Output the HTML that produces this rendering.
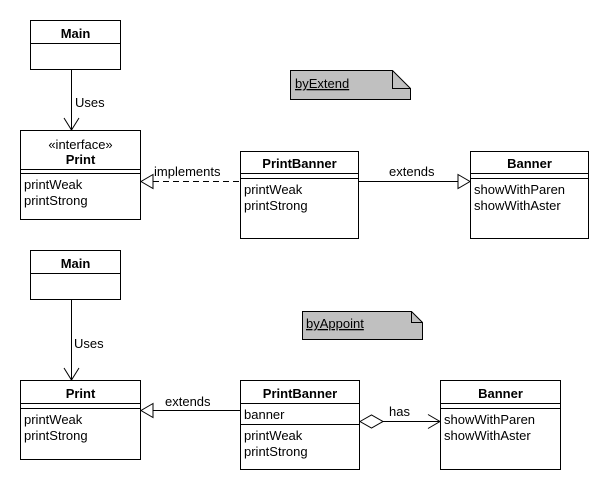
<!DOCTYPE html>
<html><head><meta charset="utf-8"><style>
html,body{margin:0;padding:0;background:#fff;}
svg{display:block;}
text{font-family:"Liberation Sans",Arial,sans-serif;font-size:13px;fill:#000;}
.b{font-weight:bold;}
</style></head><body>
<svg width="610" height="490" viewBox="0 0 610 490" xmlns="http://www.w3.org/2000/svg">
<g fill="#fff" stroke="#000" stroke-width="1">
<rect x="30.5" y="20.5" width="90" height="49"/>
<line x1="30" y1="43.5" x2="121" y2="43.5"/>
<rect x="20.5" y="130.5" width="120" height="89"/>
<line x1="20" y1="169.5" x2="141" y2="169.5"/>
<line x1="20" y1="173.5" x2="141" y2="173.5"/>
<rect x="240.5" y="151.5" width="118" height="87"/>
<line x1="240" y1="173.5" x2="359" y2="173.5"/>
<line x1="240" y1="178.5" x2="359" y2="178.5"/>
<rect x="470.5" y="151.5" width="118" height="87"/>
<line x1="470" y1="173.5" x2="589" y2="173.5"/>
<line x1="470" y1="178.5" x2="589" y2="178.5"/>
<path d="M290.5 70.5 H392.5 L410.5 88.5 V99.5 H290.5 Z" fill="#c0c0c0"/>
<path d="M392.5 70.5 V88.5 H410.5" fill="none"/>
<line x1="71.5" y1="70" x2="71.5" y2="130"/>
<path d="M64 118 L71.5 130 L79 118" fill="none"/>
<line x1="153" y1="181.5" x2="240" y2="181.5" stroke-dasharray="6,4"/>
<path d="M153 174.5 L141 181.5 L153 188.5 Z"/>
<line x1="359" y1="181.5" x2="458" y2="181.5"/>
<path d="M458 174.5 L470 181.5 L458 188.5 Z"/>
<rect x="30.5" y="250.5" width="90" height="49"/>
<line x1="30" y1="273.5" x2="121" y2="273.5"/>
<rect x="20.5" y="380.5" width="120" height="79"/>
<line x1="20" y1="403.5" x2="141" y2="403.5"/>
<line x1="20" y1="408.5" x2="141" y2="408.5"/>
<rect x="240.5" y="380.5" width="119" height="89"/>
<line x1="240" y1="403.5" x2="360" y2="403.5"/>
<line x1="240" y1="424.5" x2="360" y2="424.5"/>
<rect x="440.5" y="380.5" width="120" height="89"/>
<line x1="440" y1="403.5" x2="561" y2="403.5"/>
<line x1="440" y1="408.5" x2="561" y2="408.5"/>
<path d="M302.5 311.5 H411.5 L422.5 322.5 V339.5 H302.5 Z" fill="#c0c0c0"/>
<path d="M411.5 311.5 V322.5 H422.5" fill="none"/>
<line x1="71.5" y1="300" x2="71.5" y2="380"/>
<path d="M64 368 L71.5 380 L79 368" fill="none"/>
<line x1="153" y1="410.5" x2="240" y2="410.5"/>
<path d="M153 403.5 L141 410.5 L153 417.5 Z"/>
<path d="M360 421.5 L371.5 415 L383 421.5 L371.5 428 Z"/>
<line x1="383" y1="421.5" x2="440" y2="421.5"/>
<path d="M428 414.5 L440 421.5 L428 428.5" fill="none"/>
</g>
<text x="75.5" y="38" text-anchor="middle" class="b">Main</text>
<text x="75" y="107">Uses</text>
<text x="80.5" y="149" text-anchor="middle">«interface»</text>
<text x="80.5" y="164" text-anchor="middle" class="b">Print</text>
<text x="24" y="189">printWeak</text>
<text x="24" y="205">printStrong</text>
<text x="299.5" y="168" text-anchor="middle" class="b">PrintBanner</text>
<text x="244" y="194">printWeak</text>
<text x="244" y="210">printStrong</text>
<text x="529.5" y="168" text-anchor="middle" class="b">Banner</text>
<text x="474" y="194">showWithParen</text>
<text x="474" y="210">showWithAster</text>
<text x="154" y="176">implements</text>
<text x="389" y="176">extends</text>
<text x="295" y="88" text-decoration="underline">byExtend</text>
<text x="75.5" y="268" text-anchor="middle" class="b">Main</text>
<text x="74" y="348">Uses</text>
<text x="80.5" y="398" text-anchor="middle" class="b">Print</text>
<text x="24" y="424">printWeak</text>
<text x="24" y="440">printStrong</text>
<text x="300" y="398" text-anchor="middle" class="b">PrintBanner</text>
<text x="244" y="419">banner</text>
<text x="244" y="440">printWeak</text>
<text x="244" y="456">printStrong</text>
<text x="500.5" y="398" text-anchor="middle" class="b">Banner</text>
<text x="444" y="424">showWithParen</text>
<text x="444" y="440">showWithAster</text>
<text x="165" y="406">extends</text>
<text x="389" y="416">has</text>
<text x="306" y="328" text-decoration="underline">byAppoint</text>
</svg>
</body></html>
